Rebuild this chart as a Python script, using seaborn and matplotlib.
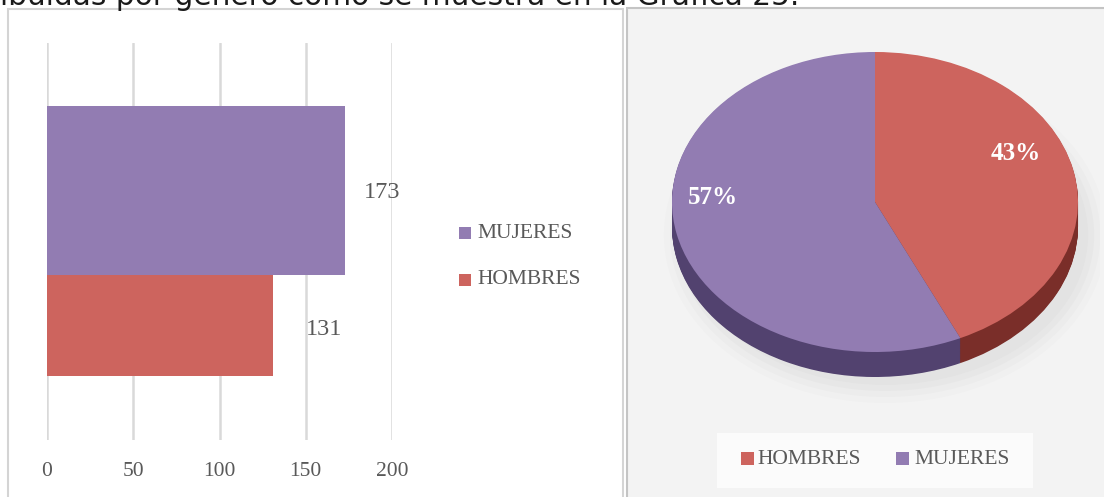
import matplotlib
matplotlib.use("Agg")
import matplotlib.pyplot as plt
from matplotlib.patches import Rectangle, Ellipse
import seaborn as sns

# ---- data ----
categories = ["HOMBRES", "MUJERES"]
counts = [131, 173]
bar_order = ["MUJERES", "HOMBRES"]
x_ticks = [0, 50, 100, 150, 200]
caption = "ibuidas por género como se muestra en la Gráfica 25."

# ---- style ----
colors = {"HOMBRES": "#CD645E", "MUJERES": "#927CB2"}
side_colors = {"HOMBRES": "#7A2E29", "MUJERES": "#52426F"}
text_grey = "#595959"
grid_grey = "#D9D9D9"

W, H = 1104, 497
sns.set_theme(style="white")
plt.rcParams["font.family"] = ["Liberation Serif", "DejaVu Serif"]

fig = plt.figure(figsize=(W / 100, H / 100), dpi=100)
fig.patch.set_facecolor("white")


def fx(px):
    return px / W


def fy(py):
    return 1 - py / H


# panel frames
fig.add_artist(Rectangle((fx(8), fy(499)), fx(623 - 8), (499 - 9) / H,
                         transform=fig.transFigure, facecolor="white",
                         edgecolor="#D4D4D4", linewidth=1.5, zorder=-2))
fig.add_artist(Rectangle((fx(627), fy(500)), fx(1110 - 627), (500 - 8) / H,
                         transform=fig.transFigure, facecolor="#F3F3F3",
                         edgecolor="#C4C4C4", linewidth=1.5, zorder=-2))

# caption line running off the top edge
fig.text(0.0, fy(5), caption, fontsize=21.3, family="DejaVu Sans",
         color="#1A1A1A", va="baseline", ha="left")

# ---- left panel: horizontal bars ----
axL = fig.add_axes([fx(47), fy(440), fx(392 - 47), (440 - 43) / H])
axL.set_facecolor("white")
df_val = dict(zip(categories, counts))
sns.barplot(x=[df_val[c] for c in bar_order], y=bar_order, hue=bar_order,
            hue_order=bar_order, palette=[colors[c] for c in bar_order],
            order=bar_order, width=1.0, orient="h", legend=False, ax=axL,
            saturation=1, linewidth=0, zorder=3)

bar_heights = [1.0, 0.598]
label_offsets = [(18, -2), (33, -4)]
for patch, h, cat, (dx, dy) in zip(axL.patches, bar_heights, bar_order, label_offsets):
    patch.set_height(h)
    yc = patch.get_y() + h / 2
    axL.annotate(str(df_val[cat]), xy=(df_val[cat], yc), xytext=(dx, dy),
                 textcoords="offset pixels", ha="left", va="center",
                 fontsize=17.5, color=text_grey, annotation_clip=False)

axL.set_xlim(0, 200)
axL.set_ylim(1.476, -0.873)
axL.set_xticks(x_ticks)
axL.set_xticklabels([str(t) for t in x_ticks], fontsize=15.5, color=text_grey)
axL.set_yticks([])
axL.set_xlabel("")
axL.set_ylabel("")
axL.xaxis.grid(True, color=grid_grey, linewidth=1.8, zorder=0)
axL.set_axisbelow(True)
axL.tick_params(axis="x", length=0, pad=16)
for s in axL.spines.values():
    s.set_visible(False)

# left legend
for cat, yc in [("MUJERES", 233), ("HOMBRES", 280)]:
    fig.add_artist(Rectangle((fx(459), fy(yc + 6)), fx(12), 12 / H,
                             transform=fig.transFigure, facecolor=colors[cat],
                             edgecolor="none"))
    fig.text(fx(477), fy(yc), cat, fontsize=15.5, color=text_grey,
             va="center", ha="left")

# ---- right panel: 3D-style pie ----
cx, cy, rx, ry = 875, 202, 203, 150
axR = fig.add_axes([fx(640), fy(430), fx(1100 - 640), (430 - 25) / H])
axR.set_facecolor("none")
axR.patch.set_alpha(0)

# soft shadow under the disc
for k, a in enumerate([0.04, 0.035, 0.03, 0.025]):
    axR.add_patch(Ellipse((0.05, -0.22), 2.0 + 0.06 * k, 2.0 + 0.08 * k,
                          facecolor="#808080", edgecolor="none", alpha=a,
                          zorder=0))

depth = 25 / ry
n_layers = 30
for i in range(n_layers, 0, -1):
    off = depth * i / n_layers
    axR.pie(counts, startangle=90, counterclock=False, center=(0, -off),
            colors=[side_colors[c] for c in categories],
            wedgeprops=dict(linewidth=0))

wedges, _, autotexts = axR.pie(
    counts, startangle=90, counterclock=False, center=(0, 0),
    colors=[colors[c] for c in categories], wedgeprops=dict(linewidth=0),
    autopct=lambda p: f"{p:.0f}%",
    textprops=dict(color="white", fontsize=18, fontweight="bold"))

label_pos = {"HOMBRES": (1016, 153), "MUJERES": (713, 198)}
for t, cat in zip(autotexts, categories):
    px, py = label_pos[cat]
    t.set_position(((px - cx) / rx, (cy - py) / ry))
    t.set_ha("center")
    t.set_va("center")

axR.set_aspect("auto")
axR.set_xlim((640 - cx) / rx, (1100 - cx) / rx)
axR.set_ylim((cy - 430) / ry, (cy - 25) / ry)
axR.axis("off")

# right legend
fig.add_artist(Rectangle((fx(717), fy(488)), fx(1033 - 717), (488 - 433) / H,
                         transform=fig.transFigure, facecolor="#FBFBFB",
                         edgecolor="none", zorder=-1))
for cat, sx, tx in [("HOMBRES", 741, 757), ("MUJERES", 896, 914)]:
    fig.add_artist(Rectangle((fx(sx), fy(465)), fx(13), 13 / H,
                             transform=fig.transFigure, facecolor=colors[cat],
                             edgecolor="none"))
    fig.text(fx(tx), fy(459), cat, fontsize=15.5, color=text_grey,
             va="center", ha="left")

fig.savefig("out.png", dpi=100, facecolor="white")
